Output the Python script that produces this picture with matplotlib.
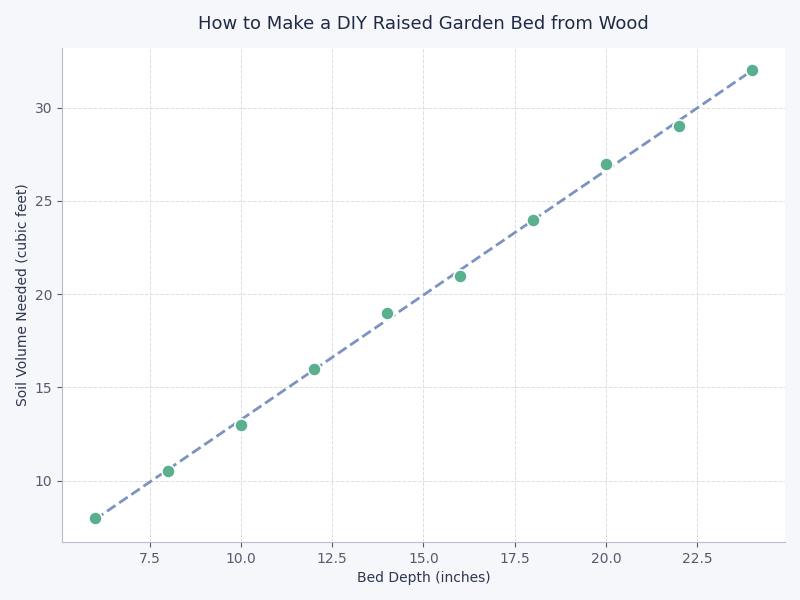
import numpy as np
import matplotlib.pyplot as plt

# Data
bed_depth = [6, 8, 10, 12, 14, 16, 18, 20, 22, 24]
soil_volume = [8, 10.5, 13, 16, 19, 21, 24, 27, 29, 32]

x = np.array(bed_depth, dtype=float)
y = np.array(soil_volume, dtype=float)
slope, intercept = np.polyfit(x, y, 1)

fig = plt.figure(figsize=(8, 6), dpi=100, facecolor='#f5f7fa')
ax = fig.add_axes([0.0775, 0.0967, 0.9035, 0.8233])
ax.set_facecolor('white')

ax.plot(x, slope * x + intercept, color='#7b93c0', linestyle='--', linewidth=2, zorder=2)
ax.scatter(x, y, s=90, color='#5aaf8e', edgecolors='white', linewidths=1.2, zorder=3)

ax.set_title('How to Make a DIY Raised Garden Bed from Wood', fontsize=13, color='#1f2a44', pad=14)
ax.set_xlabel('Bed Depth (inches)', fontsize=10, color='#2e3650')
ax.set_ylabel('Soil Volume Needed (cubic feet)', fontsize=10, color='#2e3650')

ax.grid(True, linestyle='--', color='#dddddd', linewidth=0.7)
ax.set_axisbelow(True)
for side in ['top', 'right']:
    ax.spines[side].set_visible(False)
for side in ['left', 'bottom']:
    ax.spines[side].set_color('#b8bccb')
ax.tick_params(colors='#555a6e', labelsize=10)
ax.tick_params(axis='both', color='#555a6e')

plt.savefig('out.png', dpi=100, facecolor=fig.get_facecolor())
